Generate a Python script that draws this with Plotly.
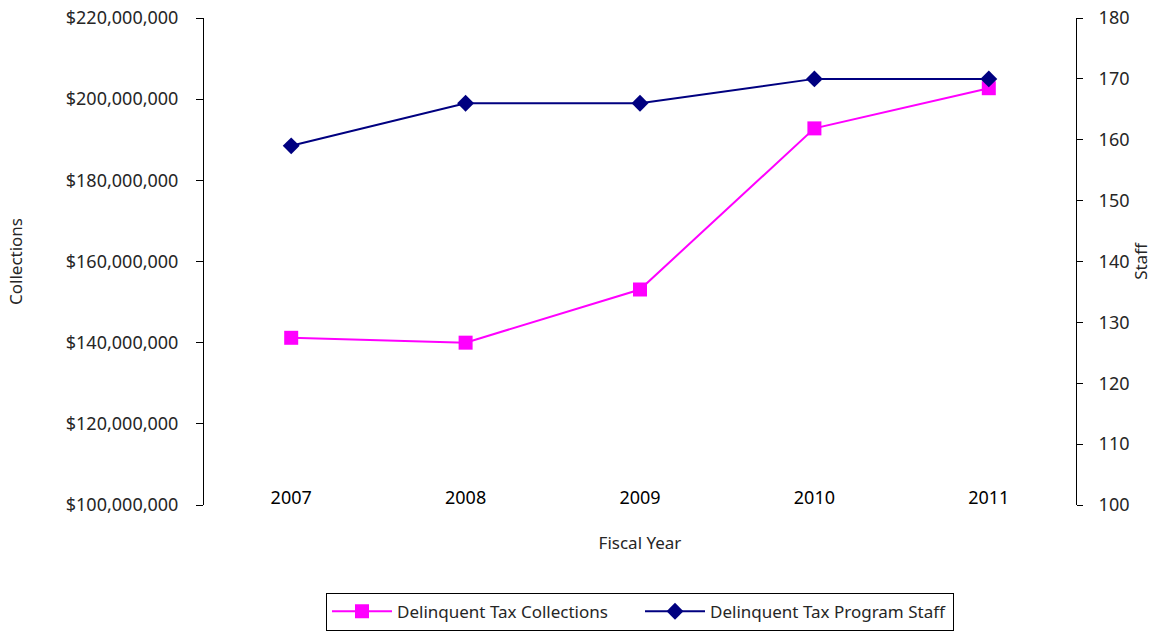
import plotly.graph_objects as go

years = ["2007", "2008", "2009", "2010", "2011"]
collections = [141200000, 140000000, 153100000, 192800000, 202700000]
staff = [159, 166, 166, 170, 170]

FONT = "Noto Sans"
TEXT = "#262626"
fig = go.Figure()

fig.add_trace(go.Scatter(
    x=years, y=collections, name="Delinquent Tax Collections",
    mode="lines+markers", line=dict(color="#FF00FF", width=2),
    marker=dict(symbol="square", size=14, color="#FF00FF"),
    yaxis="y",
))
fig.add_trace(go.Scatter(
    x=years, y=staff, name="Delinquent Tax Program Staff",
    mode="lines+markers", line=dict(color="#000080", width=2),
    marker=dict(symbol="diamond", size=13, color="#000080"),
    yaxis="y2",
))

axis_common = dict(showgrid=False, zeroline=False, showline=True,
                   linecolor="#000000", linewidth=1, tickcolor="#000000",
                   automargin=False)

fig.update_layout(
    width=1161, height=637,
    margin=dict(l=204, r=85, t=18, b=132, autoexpand=False),
    paper_bgcolor="white", plot_bgcolor="white",
    font=dict(family=FONT, size=18, color=TEXT),
    xaxis=dict(
        type="category", range=[-0.5, 4.5], showgrid=False, zeroline=False,
        showline=False, ticks="", ticklabelstandoff=-20, automargin=False,
        tickfont=dict(color="#000000"),
        title=dict(text="Fiscal Year", standoff=29, font=dict(size=17)),
    ),
    yaxis=dict(
        range=[100000000, 220000000], dtick=20000000, tickprefix="$",
        tickformat=",d", ticks="outside", ticklen=7, ticklabelstandoff=14,
        title=dict(text="Collections", standoff=38, font=dict(size=17)),
        **axis_common,
    ),
    yaxis2=dict(
        range=[100, 180], dtick=10, overlaying="y", side="right",
        ticks="outside", ticklen=6, ticklabelstandoff=12,
        title=dict(text="Staff", standoff=6, font=dict(size=17)),
        **axis_common,
    ),
    # Inner halves of the crossing tick marks
    yaxis3=dict(range=[100000000, 220000000], dtick=20000000, overlaying="y",
                side="left", ticks="inside", ticklen=8, showticklabels=False,
                **axis_common),
    yaxis4=dict(range=[100, 180], dtick=10, overlaying="y", side="right",
                ticks="inside", ticklen=8, showticklabels=False,
                **axis_common),
    legend=dict(
        orientation="h", x=0.5, xanchor="center", y=-0.18, yanchor="top",
        bordercolor="#000000", borderwidth=1, bgcolor="white",
        font=dict(size=17, color=TEXT), itemwidth=60, entrywidth=238,
    ),
    showlegend=True,
)

fig.write_html("out.html")
